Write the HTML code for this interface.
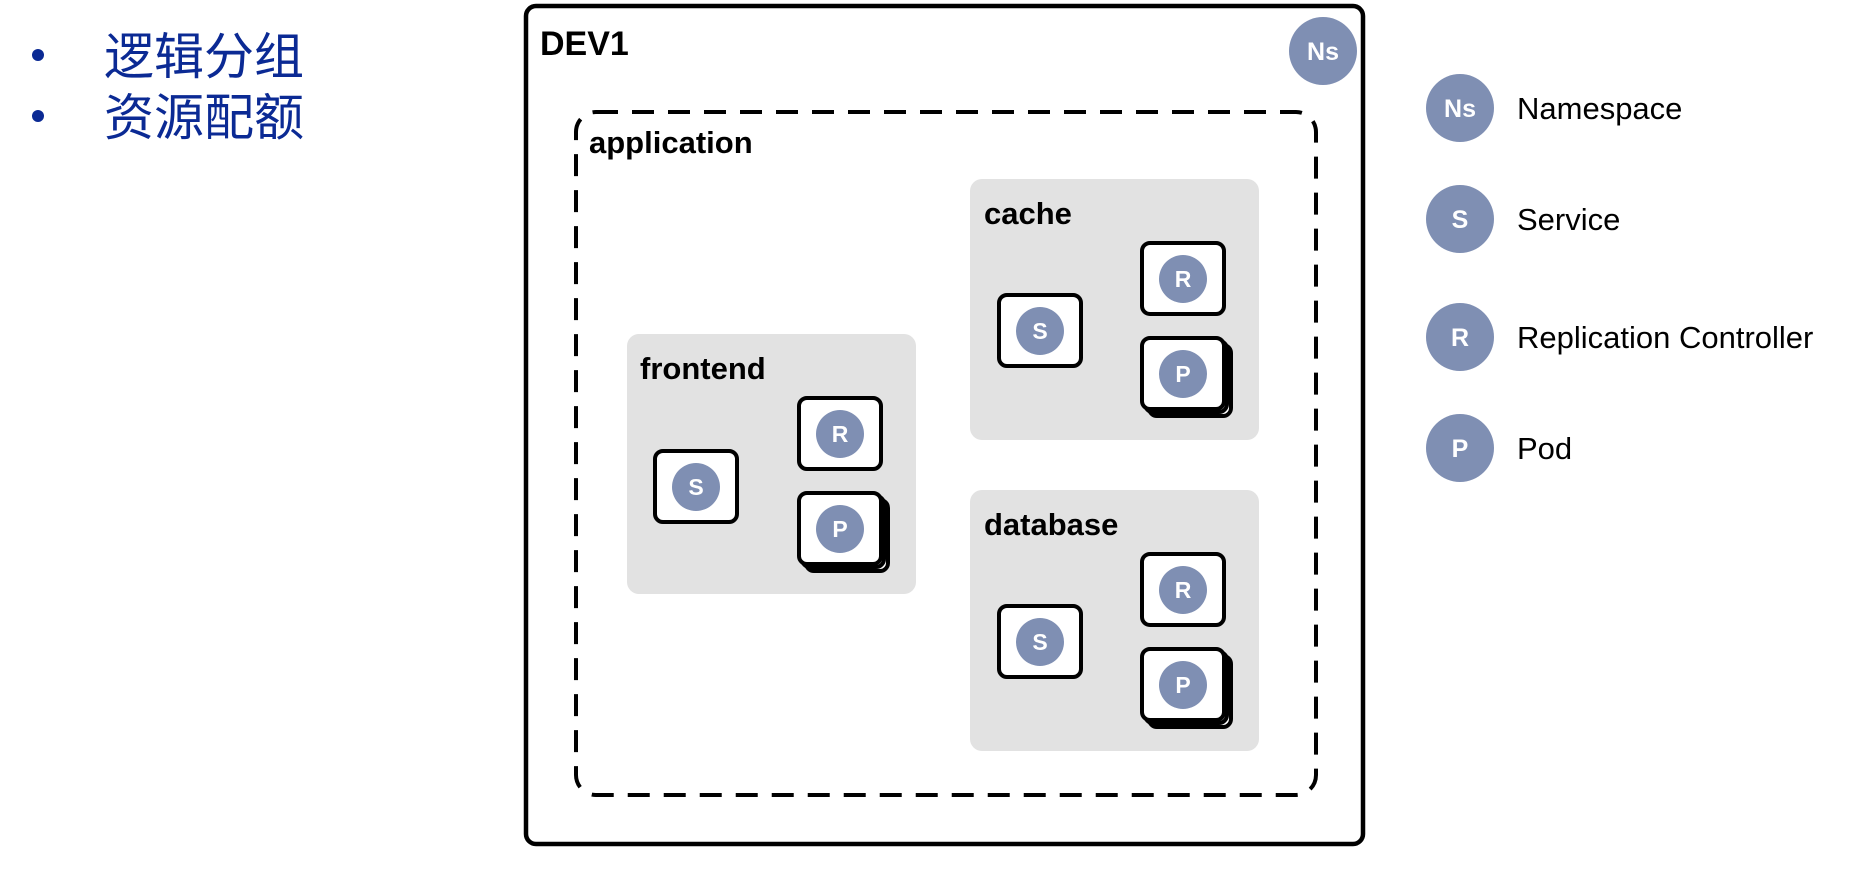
<!DOCTYPE html>
<html><head><meta charset="utf-8"><style>
html,body{margin:0;padding:0;background:#fff;width:1875px;height:869px;overflow:hidden}
svg{display:block}
</style></head><body>
<svg width="1875" height="869" viewBox="0 0 1875 869" xmlns="http://www.w3.org/2000/svg" font-family="Liberation Sans, Noto Sans CJK SC, sans-serif">
<defs>
<g id="box"><rect x="0" y="0" width="82" height="71" rx="8" fill="#fff" stroke="#000" stroke-width="4"/></g>
<g id="pbox"><rect x="7" y="7" width="82" height="71" rx="8" fill="#fff" stroke="#000" stroke-width="4"/><rect x="3" y="3" width="82" height="71" rx="8" fill="#fff" stroke="#000" stroke-width="4"/><rect x="0" y="0" width="82" height="71" rx="8" fill="#fff" stroke="#000" stroke-width="4"/></g>
</defs>
<circle cx="38" cy="55" r="6" fill="#0b2a94"/>
<circle cx="38" cy="116" r="6" fill="#0b2a94"/>
<text x="104" y="74" font-size="50" fill="#0b2a94" font-family="Noto Sans CJK SC, sans-serif">逻辑分组</text>
<text x="104" y="135" font-size="50" fill="#0b2a94" font-family="Noto Sans CJK SC, sans-serif">资源配额</text>

<rect x="526" y="6" width="837" height="838" rx="10" fill="#fff" stroke="#000" stroke-width="4.5"/>
<text x="540" y="55" font-size="34" font-weight="bold">DEV1</text>
<circle cx="1323" cy="51" r="34" fill="#7f8fb3"/>
<text x="1323" y="60" font-size="25" font-weight="bold" fill="#fff" text-anchor="middle">Ns</text>
<rect x="576" y="112" width="740" height="683" rx="20" fill="none" stroke="#000" stroke-width="4" stroke-dasharray="22,14"/>
<text x="589" y="153" font-size="31" font-weight="bold">application</text>

<g transform="translate(627,334)">
<rect width="289" height="260" rx="12" fill="#e2e2e2"/>
<text x="13" y="45" font-size="31" font-weight="bold">frontend</text>
<use href="#box" x="28" y="117"/><circle cx="69" cy="153" r="24" fill="#7f8fb3"/><text x="69" y="161" font-size="23" font-weight="bold" fill="#fff" text-anchor="middle">S</text>
<use href="#box" x="172" y="64"/><circle cx="213" cy="100" r="24" fill="#7f8fb3"/><text x="213" y="108" font-size="23" font-weight="bold" fill="#fff" text-anchor="middle">R</text>
<use href="#pbox" x="172" y="159"/><circle cx="213" cy="195" r="24" fill="#7f8fb3"/><text x="213" y="203" font-size="23" font-weight="bold" fill="#fff" text-anchor="middle">P</text>
</g>
<g transform="translate(970,179)">
<rect width="289" height="261" rx="12" fill="#e2e2e2"/>
<text x="14" y="45" font-size="31" font-weight="bold">cache</text>
<use href="#box" x="29" y="116"/><circle cx="70" cy="152" r="24" fill="#7f8fb3"/><text x="70" y="160" font-size="23" font-weight="bold" fill="#fff" text-anchor="middle">S</text>
<use href="#box" x="172" y="64"/><circle cx="213" cy="100" r="24" fill="#7f8fb3"/><text x="213" y="108" font-size="23" font-weight="bold" fill="#fff" text-anchor="middle">R</text>
<use href="#pbox" x="172" y="159"/><circle cx="213" cy="195" r="24" fill="#7f8fb3"/><text x="213" y="203" font-size="23" font-weight="bold" fill="#fff" text-anchor="middle">P</text>
</g>
<g transform="translate(970,490)">
<rect width="289" height="261" rx="12" fill="#e2e2e2"/>
<text x="14" y="45" font-size="31" font-weight="bold">database</text>
<use href="#box" x="29" y="116"/><circle cx="70" cy="152" r="24" fill="#7f8fb3"/><text x="70" y="160" font-size="23" font-weight="bold" fill="#fff" text-anchor="middle">S</text>
<use href="#box" x="172" y="64"/><circle cx="213" cy="100" r="24" fill="#7f8fb3"/><text x="213" y="108" font-size="23" font-weight="bold" fill="#fff" text-anchor="middle">R</text>
<use href="#pbox" x="172" y="159"/><circle cx="213" cy="195" r="24" fill="#7f8fb3"/><text x="213" y="203" font-size="23" font-weight="bold" fill="#fff" text-anchor="middle">P</text>
</g>

<g font-size="31">
<circle cx="1460" cy="108" r="34" fill="#7f8fb3"/><text x="1460" y="117" font-size="25" font-weight="bold" fill="#fff" text-anchor="middle">Ns</text>
<text x="1517" y="119">Namespace</text>
<circle cx="1460" cy="219" r="34" fill="#7f8fb3"/><text x="1460" y="228" font-size="25" font-weight="bold" fill="#fff" text-anchor="middle">S</text>
<text x="1517" y="230">Service</text>
<circle cx="1460" cy="337" r="34" fill="#7f8fb3"/><text x="1460" y="346" font-size="25" font-weight="bold" fill="#fff" text-anchor="middle">R</text>
<text x="1517" y="348">Replication Controller</text>
<circle cx="1460" cy="448" r="34" fill="#7f8fb3"/><text x="1460" y="457" font-size="25" font-weight="bold" fill="#fff" text-anchor="middle">P</text>
<text x="1517" y="459">Pod</text>
</g>
</svg>
</body></html>
